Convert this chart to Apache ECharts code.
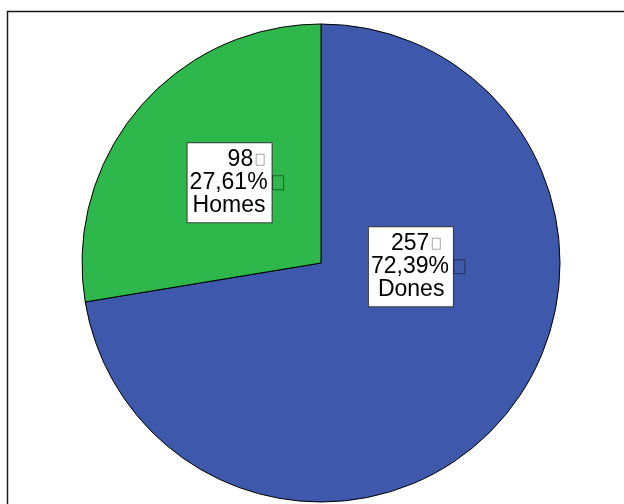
<!DOCTYPE html>
<html>
<head>
<meta charset="utf-8">
<script src="https://cdn.jsdelivr.net/npm/echarts@6/dist/echarts.min.js"></script>
<style>
html,body{margin:0;padding:0;background:#fff;}
#chart{width:624px;height:504px;}
</style>
</head>
<body>
<div id="chart"></div>
<script>
// ---- data ----
var categories = ['Dones', 'Homes'];
var counts = [257, 98];
var sliceColors = ['#3e59ab', '#2eb74b'];

// ---- label layout styling (per category) ----
var labelLead1 = {Dones: 20, Homes: 38};   // indent of first line
var labelLead3 = {Dones: 7, Homes: 3};     // indent of third line
var labelOffset = {Dones: [-3.5, -75.5], Homes: [2, -1]};

var total = counts.reduce(function (a, b) { return a + b; }, 0);
function pctText(v) {
  return (v / total * 100).toFixed(2).replace('.', ',') + '%';
}

var FONT = '"Liberation Sans", Arial, sans-serif';
var baseText = {fontFamily: FONT, fontSize: 23, lineHeight: 23, color: '#000', align: 'left'};

var data = categories.map(function (name, i) {
  return {
    name: name,
    value: counts[i],
    itemStyle: {color: sliceColors[i]},
    label: {
      offset: labelOffset[name],
      rich: {
        l1: {width: labelLead1[name], align: 'left', lineHeight: 23},
        l3: {width: labelLead3[name], align: 'left', lineHeight: 23}
      }
    }
  };
});

var chart = echarts.init(document.getElementById('chart'), null, {renderer: 'canvas'});
chart.setOption({
  backgroundColor: '#ffffff',
  animation: false,
  textStyle: {fontFamily: FONT},
  graphic: [{
    type: 'rect',
    shape: {x: 7.5, y: 11.5, width: 700, height: 600},
    style: {fill: 'none', stroke: '#1a1a1a', lineWidth: 1.5},
    silent: true,
    z: -1
  }],
  series: [{
    type: 'pie',
    center: [321, 263],
    radius: [0, 239],
    startAngle: 90,
    clockwise: true,
    avoidLabelOverlap: false,
    labelLine: {show: false},
    itemStyle: {borderColor: '#000', borderWidth: 1},
    emphasis: {disabled: true},
    label: {
      show: true,
      position: 'inside',
      width: 80,
      overflow: 'none',
      align: 'center',
      verticalAlign: 'middle',
      backgroundColor: '#ffffff',
      borderColor: '#3a3a3a',
      borderWidth: 1,
      padding: [5, 2, 5, 2],
      formatter: function (p) {
        return '{l1| }{a|' + p.value + '}{g1| }{t| }\n' +
               '{a|' + pctText(p.value) + '}{g2| }{u| }\n' +
               '{l3| }{a|' + p.name + '}';
      },
      rich: {
        a: baseText,
        g1: {width: 3, align: 'left', lineHeight: 23},
        g2: {width: 5, align: 'left', lineHeight: 23},
        t: {width: 8, height: 11, align: 'left', lineHeight: 23,
            borderColor: 'rgba(0,0,0,0.35)', borderWidth: 1},
        u: {width: 11, height: 14, align: 'left', lineHeight: 23,
            borderColor: 'rgba(0,0,0,0.45)', borderWidth: 1}
      }
    },
    data: data
  }]
});
</script>
</body>
</html>
